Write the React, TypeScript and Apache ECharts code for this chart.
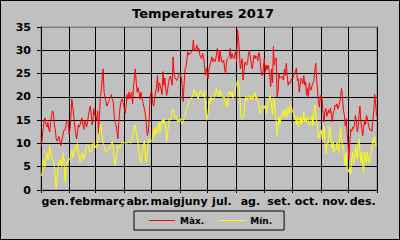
import React, { useEffect, useRef } from "react";
import * as echarts from "echarts";

const monthNames = ["gen.", "febr", "març", "abr.", "maig", "juny", "jul.", "ag.", "set.", "oct.", "nov.", "des."];
const yTicks = [0, 5, 10, 15, 20, 25, 30, 35];

const maxGen = [9.5, 11.5, 13.5, 15, 15.5, 14, 13.5, 14.5, 13, 12.5, 14.5, 16, 17, 16.5, 14, 13, 11, 10.5, 11, 11.5, 10.5, 9.5, 10.5, 11.5, 12.5, 13, 13, 14.5, 15, 14.5, 12];
const maxFeb = [13, 16, 19.5, 18, 16, 14, 12.5, 11, 12, 14, 13.5, 14, 15, 15.5, 14, 13, 15, 14.5, 13.5, 14.5, 16, 17, 18, 16.5, 14, 15, 17.5, 16];
const maxMar = [16, 15, 17, 12, 16, 20, 21.5, 24, 26, 21, 20, 19, 18, 18.5, 19, 19.5, 20, 20.5, 19.5, 19, 16, 14.5, 14, 12.5, 11, 14.5, 17, 18.5, 19.5, 19.5, 18.5];
const maxAbr = [17.5, 16.5, 18, 20.5, 19.5, 21, 19.6, 20.5, 21, 18.5, 22, 24, 26, 23, 21, 22, 21, 19.5, 21, 20, 19, 18, 17.4, 16, 14, 11.7, 12.4, 15, 20, 21];
const maxMai = [21, 18.5, 18, 19.5, 21, 22, 24.6, 21, 23, 22.5, 21.5, 20.5, 25.4, 22.5, 24, 21.8, 20.3, 21.5, 23, 24, 24.5, 23.5, 22.5, 28.6, 25, 24, 23.9, 23.5, 24, 24.6, 25];
const maxJun = [24.8, 24, 22, 19, 23, 26, 26.4, 28, 29.7, 29, 29.3, 29.3, 29.7, 30, 32.2, 30, 30.5, 30.4, 31.1, 29.7, 30.4, 29, 28.5, 28.2, 29.3, 28.5, 27, 24.6, 26.1, 25.4];
const maxJul = [23.9, 26, 26.8, 27.5, 28.6, 27.5, 28.2, 27.9, 27.6, 29, 30.4, 29, 27.5, 30, 28.6, 27.4, 27.5, 27.9, 26, 25, 27.5, 28.2, 28.4, 28.6, 30.4, 28.2, 29.3, 28.5, 28.2, 29, 29.7];
const maxAgo = [27.5, 34.4, 32.6, 30, 26, 27, 28.2, 23.6, 25.5, 27.5, 27, 26.8, 27.5, 29.5, 30, 28.5, 27, 26, 27.5, 29, 28.2, 28.8, 28.6, 27.8, 29.5, 29, 26.5, 25, 24.5, 26, 28.2];
const maxSet = [25.4, 26.8, 25.8, 26.8, 26.1, 24.5, 22.2, 26, 23, 30.8, 26.8, 28.2, 28.4, 20, 21, 25, 24, 24.2, 24.5, 23.9, 23.6, 26, 24.6, 27.2, 24.6, 22.5, 23.2, 22.9, 23.4, 23.9];
const maxOct = [23.9, 24.6, 25, 25.6, 26.2, 23.5, 23.9, 21, 22.5, 24, 23.6, 22.8, 24.6, 22.5, 23.2, 20.3, 21.8, 20, 23, 21.5, 21.5, 22.5, 23, 23.5, 26, 27.2, 23.6, 21, 18.9, 17.8, 20.3];
const maxNov = [20.3, 19.2, 16.2, 14.6, 17, 17.5, 15.8, 16.5, 17.2, 16.5, 17.6, 16, 14.6, 16.7, 17.1, 18.2, 17.9, 18.5, 17.4, 18, 18.7, 20, 21.8, 20, 17, 16.2, 13.8, 15.3, 12.4, 10];
const maxDes = [6.7, 10.3, 13, 12.6, 13.5, 13.2, 14, 16, 15, 12.5, 13.5, 16, 18, 14.6, 13, 11.7, 13.5, 15, 14, 16, 15.5, 14.2, 13.4, 12.8, 13, 12.6, 15, 17, 20.5, 18.5, 16];

const minGen = [3, 4, 6.5, 5.5, 5, 7.5, 8, 6.5, 7, 9.5, 8, 7, 6.5, 6, 5, 3, 0.2, 2.5, 4.5, 6, 6.5, 5.5, 5, 7, 8, 4, 1.6, 5, 6, 6.5, 6.5];
const minFeb = [6.5, 8, 8.5, 7, 7.5, 9, 8.5, 9.5, 10, 8, 7, 6, 7, 8, 7.5, 6.5, 7.5, 8.5, 9.5, 9.8, 9.5, 8.5, 8, 8.5, 9, 10, 10.3, 9];
const minMar = [9.5, 9, 10, 11.5, 12.5, 14, 13.5, 11.5, 10, 9.5, 8.5, 8, 8.5, 8.5, 9, 9, 9.5, 10, 10.5, 9, 7, 5.2, 6.5, 8, 9.5, 9.5, 9, 9.5, 10, 10.5, 10];
const minAbr = [10.3, 10, 9.8, 10, 10.3, 10.5, 10.3, 10, 10.5, 11.5, 12.5, 13.8, 14, 12.4, 11, 10, 8, 6.7, 5.9, 7.4, 8.8, 9.9, 10.6, 6.7, 5.9, 7.4, 10.3, 11, 10.3, 10.3];
const minMai = [10.6, 12, 13, 11.5, 13.5, 12.5, 12, 13.8, 14.5, 12.5, 14.6, 15, 14.2, 15.3, 14.5, 13.5, 10.3, 12.4, 14, 15.3, 15, 15.5, 16.7, 17.4, 16.5, 15.6, 16, 15.3, 14.6, 15, 14.6];
const minJun = [15.3, 14.6, 14.2, 14.8, 15.6, 16, 17, 17.8, 18.2, 18.9, 19.2, 19.4, 19.8, 20, 21, 21.6, 20.5, 20.3, 21, 19.6, 20, 20.8, 21.4, 21, 20.5, 20, 21.4, 18, 16.4, 15];
const minJul = [16.7, 19.2, 18.5, 20, 19.3, 19.6, 19.4, 20, 20.7, 21.8, 21, 20.3, 20, 21.4, 20.5, 20.7, 19.8, 19.8, 20, 18.4, 19, 17.8, 20.3, 21.2, 21.2, 20, 21, 19.8, 20.4, 20.6, 22.1];
const minAgo = [22.8, 23.6, 23.2, 22, 18.2, 15.6, 15.3, 15.3, 16, 18.9, 20, 19.2, 19.8, 20.3, 19.6, 20, 19.3, 20.2, 19.6, 20.7, 21, 19.4, 20, 19.2, 18.5, 16.7, 16.4, 17.5, 18.2, 17.8, 17.5];
const minSet = [18.2, 16.5, 16.5, 19, 19, 20.3, 19.5, 17.8, 16.2, 19.8, 19.5, 17, 14.6, 11.7, 13.8, 15.8, 14.2, 15.3, 16, 17.1, 15.8, 16.4, 17.4, 15.3, 16, 17.8, 16.5, 17.2, 18.2, 17.4];
const minOct = [16.7, 16.4, 15.5, 15.6, 14, 15.8, 13.5, 15.3, 15.6, 14, 15.6, 14.6, 16.7, 14.6, 15.3, 14.6, 15.8, 14.6, 13.8, 14, 15.3, 16, 13.8, 17.1, 18.2, 16, 14.5, 13.1, 11, 12, 12.4];
const minNov = [12.8, 10.8, 12.2, 13.6, 10, 7.9, 10, 9.6, 11.2, 13.6, 12.2, 9.5, 8.8, 10.3, 8.1, 8.8, 8.6, 10.2, 9.5, 8.1, 11.5, 13.6, 11, 9.2, 9.5, 7, 5.2, 8, 4.5, 4.5];
const minDes = [3.8, 5, 3.4, 6.7, 8.1, 5.5, 6.7, 9.5, 8.1, 6.7, 10.3, 11, 8.1, 5.9, 8.1, 5.2, 3.8, 8.1, 6.7, 5.9, 8.1, 7, 5.9, 6.7, 8.1, 8.8, 11, 10, 11.5, 9.5, 10];

const maxMonths = [maxGen, maxFeb, maxMar, maxAbr, maxMai, maxJun, maxJul, maxAgo, maxSet, maxOct, maxNov, maxDes];
const minMonths = [minGen, minFeb, minMar, minAbr, minMai, minJun, minJul, minAgo, minSet, minOct, minNov, minDes];

const FONT = "DejaVu Sans";

export default function App() {
  const ref = useRef<HTMLDivElement>(null);
  useEffect(() => {
    if (!ref.current) return;
    const chart = echarts.init(ref.current, null, { renderer: "svg" });

    const days: string[] = [];
    const monthOf: number[] = [];
    const starts = new Set<number>();
    const labelIdx = new Set<number>();
    maxMonths.forEach((arr, m) => {
      starts.add(days.length);
      labelIdx.add(days.length + Math.floor(arr.length / 2));
      arr.forEach((_, d) => {
        days.push(`${d + 1}/${m + 1}`);
        monthOf.push(m);
      });
    });
    const maxData = maxMonths.flat();
    const minData = minMonths.flat();

    chart.setOption({
      animation: false,
      backgroundColor: "#C0C0C0",
      textStyle: { fontFamily: FONT },
      title: {
        text: "Temperatures 2017",
        left: 132,
        top: 7,
        padding: 0,
        textStyle: { fontFamily: FONT, fontSize: 13, fontWeight: "bold", color: "#000" },
      },
      legend: {
        data: ["Màx.", "Mín."],
        left: 134,
        top: 211,
        padding: [5, 12, 5, 15],
        itemGap: 15,
        itemWidth: 26,
        itemHeight: 1,
        icon: "rect",
        borderColor: "#000",
        borderWidth: 1,
        textStyle: { fontFamily: FONT, fontSize: 9, fontWeight: "bold", color: "#000" },
      },
      grid: {
        left: 41,
        right: 23,
        top: 27,
        bottom: 50,
        show: true,
        backgroundColor: "#C0C0C0",
        borderColor: "#808080",
        borderWidth: 1,
      },
      graphic: [
        {
          type: "rect",
          shape: { x: 0.5, y: 0.5, width: 399, height: 239 },
          style: { fill: "none", stroke: "#000", lineWidth: 1 },
          silent: true,
        },
      ],
      xAxis: {
        type: "category",
        data: days,
        boundaryGap: true,
        axisLine: { show: true, lineStyle: { color: "#000", width: 1 } },
        axisTick: {
          show: true,
          length: 3,
          interval: (i: number) => starts.has(i),
          lineStyle: { color: "#000" },
        },
        splitLine: {
          show: true,
          interval: (i: number) => starts.has(i),
          lineStyle: { color: "#000", width: 1 },
        },
        axisLabel: {
          interval: (i: number) => labelIdx.has(i),
          formatter: (_v: string, i: number) => monthNames[monthOf[i]],
          fontFamily: FONT,
          fontSize: 11,
          fontWeight: "bold",
          color: "#000",
          margin: 6,
        },
      },
      yAxis: {
        type: "value",
        min: yTicks[0],
        max: yTicks[yTicks.length - 1],
        interval: 5,
        axisLine: { show: true, lineStyle: { color: "#000", width: 1 } },
        axisTick: { show: true, length: 4, lineStyle: { color: "#000" } },
        splitLine: {
          show: true,
          lineStyle: {
            color: ["#000", "#000", "#000", "#000", "#000", "#000", "#000", "#808080"],
            width: 1,
          },
        },
        axisLabel: {
          fontFamily: FONT,
          fontSize: 11,
          fontWeight: "bold",
          color: "#000",
          margin: 10,
        },
      },
      series: [
        {
          name: "Màx.",
          type: "line",
          data: maxData,
          symbol: "none",
          showSymbol: false,
          itemStyle: { color: "#FF0000" },
          lineStyle: { color: "#FF0000", width: 1 },
        },
        {
          name: "Mín.",
          type: "line",
          data: minData,
          symbol: "none",
          showSymbol: false,
          itemStyle: { color: "#FFFF00" },
          lineStyle: { color: "#FFFF00", width: 1 },
        },
      ],
    });
    return () => chart.dispose();
  }, []);
  return (
    <div
      ref={ref}
      style={{ position: "fixed", left: 0, top: 0, width: 400, height: 240 }}
    />
  );
}
